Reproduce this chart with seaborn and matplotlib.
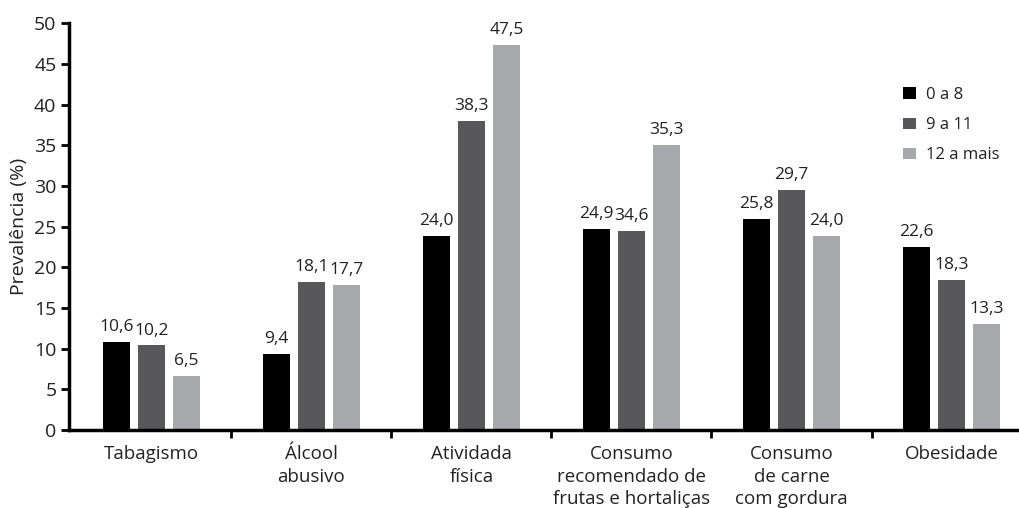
import matplotlib
matplotlib.use("Agg")
import matplotlib.pyplot as plt
import seaborn as sns
import pandas as pd

categories = ["Tabagismo", "Álcool\nabusivo", "Atividada\nfísica",
              "Consumo\nrecomendado de\nfrutas e hortaliças",
              "Consumo\nde carne\ncom gordura", "Obesidade"]
groups = ["0 a 8", "9 a 11", "12 a mais"]

# bar heights as drawn in the picture
h_0a8 = [10.8, 9.4, 23.9, 24.7, 26.0, 22.5]
h_9a11 = [10.4, 18.2, 38.0, 24.5, 29.5, 18.5]
h_12 = [6.6, 17.8, 47.4, 35.1, 23.9, 13.0]

# labels as printed above the bars
lab_0a8 = ["10,6", "9,4", "24,0", "24,9", "25,8", "22,6"]
lab_9a11 = ["10,2", "18,1", "38,3", "34,6", "29,7", "18,3"]
lab_12 = ["6,5", "17,7", "47,5", "35,3", "24,0", "13,3"]

yticks = [0, 5, 10, 15, 20, 25, 30, 35, 40, 45, 50]
colors = ["#000000", "#58585a", "#a7a8ab"]

rows = []
for g, vals in zip(groups, [h_0a8, h_9a11, h_12]):
    for c, v in zip(categories, vals):
        rows.append({"cat": c, "grp": g, "val": v})
df = pd.DataFrame(rows)

sns.set_theme(style="ticks")
plt.rcParams["font.family"] = ["Open Sans", "DejaVu Sans"]

fig = plt.figure(figsize=(10.2, 5.08), dpi=100)
ax = fig.add_axes([69 / 1020, 1 - 430 / 508, 1 - 69 / 1020, (430 - 23.5) / 508])

sns.barplot(data=df, x="cat", y="val", hue="grp", order=categories,
            hue_order=groups, palette=colors, width=0.656, gap=0.23,
            saturation=1, ax=ax, legend=True, edgecolor="none", linewidth=0)

for cont, labs in zip(ax.containers, [lab_0a8, lab_9a11, lab_12]):
    ax.bar_label(cont, labels=labs, padding=5, fontsize=12.5, color="#222222")

ax.set_ylim(0, 50)
ax.set_yticks(yticks)
ax.set_yticklabels([str(t) for t in yticks], fontsize=14, color="#222222")
ax.set_xlim(-0.515, 5.428)
ax.set_xticks([i + 0.5 for i in range(5)], minor=False)
ax.set_xticklabels([])
ax.set_xticks(range(6), minor=True)
ax.set_xticklabels(categories, minor=True, fontsize=13.5, color="#222222",
                   linespacing=1.32, va="top")
ax.tick_params(axis="x", which="minor", length=0, pad=11)
ax.tick_params(axis="x", which="major", length=6, width=2, color="black")
ax.tick_params(axis="y", length=6, width=2, color="black", pad=3)
ax.set_xlabel("")
ax.set_ylabel("Prevalência (%)", fontsize=14, color="#222222", labelpad=4)

for s in ["top", "right"]:
    ax.spines[s].set_visible(False)
for s in ["left", "bottom"]:
    ax.spines[s].set_linewidth(2.5)
    ax.spines[s].set_color("black")

handles, labels = ax.get_legend_handles_labels()
ax.legend(handles, labels, loc="upper left",
          bbox_to_anchor=(903 / 1020, 1 - 87 / 508), bbox_transform=fig.transFigure,
          frameon=False, fontsize=12, handlelength=0.8, handleheight=0.7,
          handletextpad=0.6, labelspacing=0.85, borderpad=0, borderaxespad=0,
          labelcolor="#222222")

fig.savefig("out.png", dpi=100)
